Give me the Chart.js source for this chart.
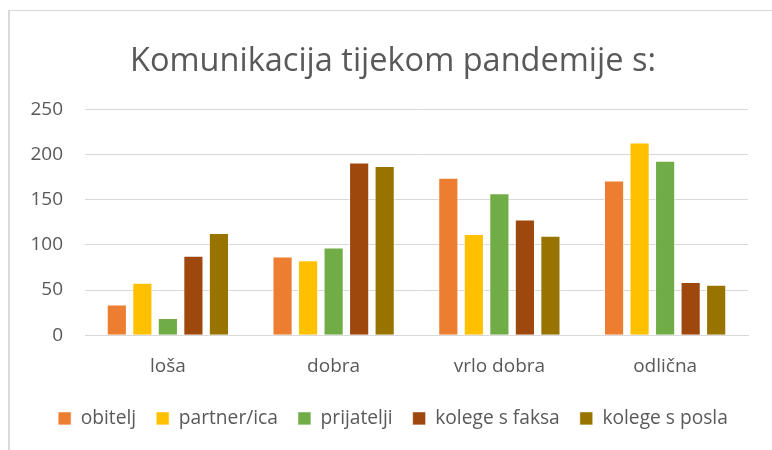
<!DOCTYPE html>
<html><head><meta charset="utf-8">
<script src="https://cdn.jsdelivr.net/npm/chart.js@4"></script>
<style>
html,body{margin:0;padding:0;background:#fff;overflow:hidden}
#wrap{position:absolute;left:0;top:0;width:772px;height:450px}
#frame{position:absolute;left:8px;top:10px;width:800px;height:500px;border-left:2px solid #d9d9d9;border-top:1px solid #d9d9d9;box-sizing:border-box}
canvas{position:absolute;left:0;top:0}
</style></head><body>
<div id="wrap"><div id="frame"></div><canvas id="c" width="772" height="450"></canvas></div>
<script>
const categories = ["loša", "dobra", "vrlo dobra", "odlična"];
const seriesNames = ["obitelj", "partner/ica", "prijatelji", "kolege s faksa", "kolege s posla"];
const obitelj = [34, 87, 174, 171];
const partnerIca = [58, 83, 112, 213];
const prijatelji = [19, 97, 157, 193];
const kolegeFaks = [88, 191, 128, 59];
const kolegePosla = [113, 187, 110, 56];
const yTicks = [0, 50, 100, 150, 200, 250];
const colors = ["#ED7D31", "#FFC000", "#70AD47", "#9E480E", "#997300"];
const values = [obitelj, partnerIca, prijatelji, kolegeFaks, kolegePosla];

const FONT = "'Open Sans', sans-serif";
const GREY = "#595959";
const shiftBlocks = {
  id: 'shiftBlocks',
  afterLayout(chart) {
    const dx = 9;
    [chart.titleBlock, chart.legend].forEach(b => {
      if (b) { b.left += dx; b.right += dx; if (b.legendHitBoxes) b.legendHitBoxes.forEach(h => h.left += dx); }
    });
  }
};
new Chart(document.getElementById('c'), {
  type: 'bar',
  data: {
    labels: categories,
    datasets: seriesNames.map((n, i) => ({
      label: n, data: values[i], backgroundColor: colors[i],
      borderColor: 'rgba(255,255,255,0.6)', borderWidth: 1,
      categoryPercentage: 0.77, barPercentage: 0.79
    }))
  },
  plugins: [shiftBlocks],
  options: {
    responsive: false, animation: false,
    layout: { padding: { left: 20, right: 24, top: 22, bottom: 12 } },
    plugins: {
      title: { display: true, text: 'Komunikacija tijekom pandemije s:', color: GREY,
        font: { family: FONT, size: 32.5, weight: 'normal' }, padding: { top: 20, bottom: 28.1 } },
      legend: { position: 'bottom', labels: { color: GREY, font: { family: FONT, size: 19.2 },
        boxWidth: 13, boxHeight: 13, padding: 20 } },
      tooltip: { enabled: false }
    },
    scales: {
      x: {
        afterFit: (ax) => { ax.height = 53.5; },
        grid: { display: false, drawTicks: false },
        border: { display: true, color: '#d9d9d9', width: 1 },
        ticks: { color: GREY, font: { family: FONT, size: 19 }, padding: 20 }
      },
      y: {
        min: 0, max: 250,
        afterBuildTicks: (ax) => { ax.ticks = yTicks.map(v => ({ value: v })); },
        afterFit: (ax) => { ax.width = 65; },
        grid: { color: '#d9d9d9', lineWidth: 1, drawTicks: false },
        border: { display: false },
        ticks: { color: GREY, font: { family: FONT, size: 19 }, padding: 22 }
      }
    }
  }
});
</script></body></html>
